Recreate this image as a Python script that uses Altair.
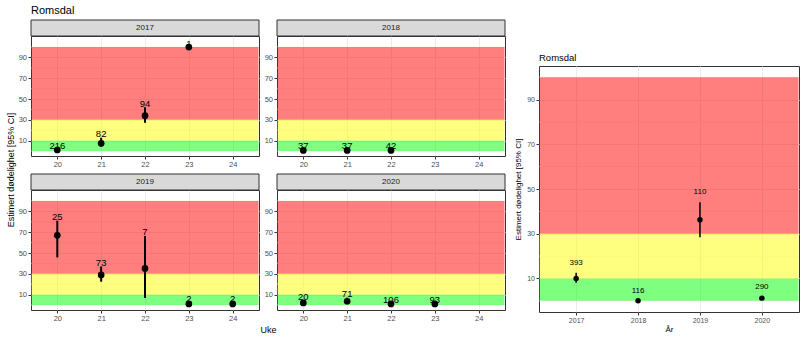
import altair as alt
import pandas as pd

FONT = "Liberation Sans"

weeks = [20, 21, 22, 23, 24]

# Weekly estimates per year (Uke, estimate, lower CI, upper CI, n)
w2017 = [20, 21, 22, 23]
e2017 = [1.0, 7.4, 34.0, 100.0]
lo2017 = [0.2, 4.2, 27.2, 98.8]
hi2017 = [1.4, 12.8, 42.0, 100.0]
n2017 = [216, 82, 94, 1]

w2018 = [20, 21, 22]
e2018 = [0.6, 0.6, 0.6]
lo2018 = [0.0, 0.0, 0.0]
hi2018 = [1.4, 1.4, 1.4]
n2018 = [37, 37, 42]

w2019 = [20, 21, 22, 23, 24]
e2019 = [67.0, 28.9, 35.2, 1.0, 1.0]
lo2019 = [45.8, 22.4, 6.8, 0.0, 0.0]
hi2019 = [81.1, 37.1, 66.4, 2.8, 2.8]
n2019 = [25, 73, 7, 2, 2]

w2020 = [20, 21, 22, 23]
e2020 = [2.0, 3.6, 1.0, 1.0]
lo2020 = [0.5, 1.5, 0.2, 0.2]
hi2020 = [4.4, 7.0, 1.6, 1.6]
n2020 = [20, 71, 106, 93]

# Yearly estimates
years = [2017, 2018, 2019, 2020]
yr_est = [10.0, 0.0, 36.3, 1.2]
yr_lo = [8.1, 0.0, 28.4, 0.6]
yr_hi = [12.6, 0.1, 44.1, 1.6]
yr_n = [393, 116, 110, 290]

# Risk bands
band_lo = [0, 10, 30]
band_hi = [10, 30, 100]
band_col = ["#00FF00", "#FFFF00", "#FF0000"]

major = [10, 30, 50, 70, 90]
minor = [0, 20, 40, 60, 80, 100]

YT = "Estimert dødelighet [95% CI]"

W, H = 228, 120
LDOM = [-4.8, 110.6]
RW, RH = 260, 246
RDOM = [-5, 105]

bands_df = pd.DataFrame({"lo": band_lo, "hi": band_hi, "col": band_col})
minor_df = pd.DataFrame({"g": minor})


def panel(year, wk, est, lo, hi, n, xtitle=False, title=None):
    df = pd.DataFrame({"Uke": wk, "est": est, "lo": lo, "hi": hi,
                       "n": [str(v) for v in n]})
    xs = alt.Scale(domain=weeks, type="point", padding=0.6)
    if xtitle:
        xax = alt.Axis(labelAngle=0, grid=True, tickSize=3, labelPadding=1.5,
                       labelFontSize=7.5, titleX=237, titleY=19,
                       titleBaseline="middle", titleFontSize=9)
        xt = "Uke"
    else:
        xax = alt.Axis(labelAngle=0, grid=True, tickSize=3, labelPadding=1.5,
                       labelFontSize=7.5)
        xt = None
    yax = alt.Axis(values=major, grid=True, tickSize=3, labelPadding=1.5,
                   labelFontSize=7.5)
    ys = alt.Scale(domain=LDOM, nice=False, zero=False)

    def X():
        return alt.X("Uke:O", scale=xs, axis=xax, title=xt)

    def Y(f):
        return alt.Y(f, type="quantitative", scale=ys, axis=yax, title=None)

    mnr = alt.Chart(minor_df).mark_rule(color="#EBEBEB", strokeWidth=0.6).encode(y=Y("g"))
    bands = alt.Chart(bands_df).mark_rect(opacity=0.5).encode(
        x=alt.value(0.5), x2=alt.value(W - 0.5),
        y=Y("lo"), y2="hi:Q",
        color=alt.Color("col:N", scale=None))
    err = alt.Chart(df).mark_rule(color="black", strokeWidth=2).encode(
        x=X(), y=Y("lo"), y2="hi:Q")
    pts = alt.Chart(df).mark_circle(color="black", opacity=1, size=45).encode(
        x=X(), y=Y("est"))
    txt = alt.Chart(df).mark_text(font=FONT, fontSize=9.5, color="black",
                                  baseline="alphabetic", dy=-0.5).encode(
        x=X(), y=Y("hi"), text="n:N")
    sdf = pd.DataFrame({"year": [year]})
    strip = alt.Chart(sdf).mark_rect(fill="#D9D9D9", stroke="#333333", strokeWidth=1).encode(
        x=alt.value(0), x2=alt.value(W), y=alt.value(-16), y2=alt.value(0))
    stxt = alt.Chart(sdf).mark_text(font=FONT, fontSize=8, color="#1A1A1A",
                                    baseline="middle").encode(
        x=alt.value(W / 2), y=alt.value(-8), text="year:N")
    ch = alt.layer(mnr, bands, err, pts, txt, strip, stxt).properties(width=W, height=H)
    if title:
        ch = ch.properties(title=alt.TitleParams(title, anchor="start", frame="group",
                                                 fontSize=11, offset=4, font=FONT,
                                                 fontWeight="normal", color="black"))
    return ch


p17 = panel("2017", w2017, e2017, lo2017, hi2017, n2017, title="Romsdal")
p18 = panel("2018", w2018, e2018, lo2018, hi2018, n2018)
p19 = panel("2019", w2019, e2019, lo2019, hi2019, n2019, xtitle=True)
p20 = panel("2020", w2020, e2020, lo2020, hi2020, n2020)

left = alt.vconcat(
    alt.hconcat(p17, p18, spacing=18, bounds="flush"),
    alt.hconcat(p19, p20, spacing=18, bounds="flush"),
    spacing=4)

# shared y-axis title of the weekly panels
ytitle = alt.Chart(pd.DataFrame({"v": [0]})).mark_point(opacity=0, size=0).encode(
    y=alt.Y("v:Q", title=YT,
            axis=alt.Axis(labels=False, ticks=False, grid=False, domain=False,
                          titlePadding=0, titleFontSize=9, titleY=133.5))
).properties(width=1, height=1, view=alt.ViewBackground(stroke="transparent"))

# Right panel (per year)
rdf = pd.DataFrame({"År": years, "est": yr_est, "lo": yr_lo, "hi": yr_hi,
                    "n": [str(v) for v in yr_n]})
rxs = alt.Scale(domain=years, type="point", padding=0.6)
rxax = alt.Axis(labelAngle=0, grid=True, tickSize=3, labelPadding=1.5, labelFontSize=7,
                titleY=17.5, titleBaseline="middle", titleFontSize=8)
rys = alt.Scale(domain=RDOM, nice=False, zero=False)
ryax = alt.Axis(values=major, grid=True, tickSize=3, labelPadding=1.5, labelFontSize=7,
                titleFontSize=8, titlePadding=4)


def RX():
    return alt.X("År:O", scale=rxs, axis=rxax, title="År")


def RY(f):
    return alt.Y(f, type="quantitative", scale=rys, axis=ryax, title=YT)


r_mnr = alt.Chart(minor_df).mark_rule(color="#EBEBEB", strokeWidth=0.6).encode(y=RY("g"))
r_bands = alt.Chart(bands_df).mark_rect(opacity=0.5).encode(
    x=alt.value(0.5), x2=alt.value(RW - 0.5), y=RY("lo"), y2="hi:Q",
    color=alt.Color("col:N", scale=None))
r_err = alt.Chart(rdf).mark_rule(color="black", strokeWidth=1.5).encode(
    x=RX(), y=RY("lo"), y2="hi:Q")
r_pts = alt.Chart(rdf).mark_circle(color="black", opacity=1, size=30).encode(
    x=RX(), y=RY("est"))
r_txt = alt.Chart(rdf).mark_text(font=FONT, fontSize=8, color="black",
                                 baseline="alphabetic", dy=-8).encode(
    x=RX(), y=RY("hi"), text="n:N")
right = alt.layer(r_mnr, r_bands, r_err, r_pts, r_txt).properties(
    width=RW, height=RH,
    title=alt.TitleParams("Romsdal", anchor="start", frame="group", fontSize=9.5,
                          offset=4, font=FONT, fontWeight="normal", color="black"))

spacer = alt.Chart(pd.DataFrame({"a": [0]})).mark_point(opacity=0, size=0).encode(
    x=alt.value(0), y=alt.value(0)).properties(
    width=1, height=1, view=alt.ViewBackground(stroke="transparent"))

right_col = alt.vconcat(spacer, right, spacing=14)

inner = alt.hconcat(ytitle, left, spacing=0)

chart = alt.hconcat(inner, right_col, spacing=8).properties(
    padding={"left": 5, "top": 4, "right": 5, "bottom": 2},
    background="white"
).configure_view(stroke="#333333", strokeWidth=1).configure_axis(
    domain=False, tickColor="#333333", labelColor="#4D4D4D", gridColor="#EBEBEB",
    gridWidth=1, titleFontWeight="normal", titleColor="black",
    labelFont=FONT, titleFont=FONT
)

chart.save("out.html", embed_options={"renderer": "svg", "actions": False})
